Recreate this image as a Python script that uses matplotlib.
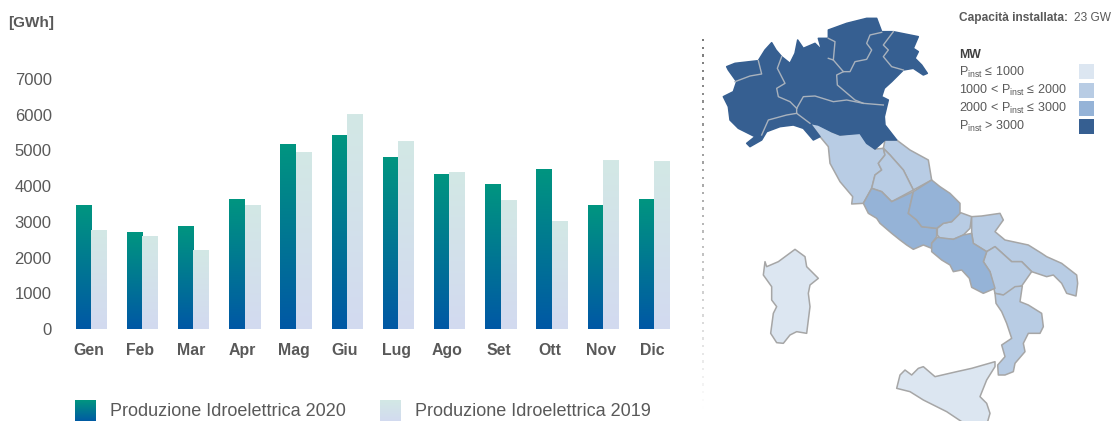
#!/usr/bin/env python3
"""Produzione idroelettrica mensile 2020/2019 e mappa della capacità installata."""

import matplotlib

matplotlib.use("Agg")
import matplotlib.pyplot as plt
import numpy as np
from matplotlib.colors import LinearSegmentedColormap
from matplotlib.patches import Polygon, Rectangle

plt.rcParams["font.family"] = ["Liberation Sans", "DejaVu Sans"]
plt.rcParams["mathtext.fontset"] = "custom"
plt.rcParams["mathtext.rm"] = "Liberation Sans"

# ── dati ──────────────────────────────────────────────
MONTHS = ["Gen", "Feb", "Mar", "Apr", "Mag", "Giu", "Lug", "Ago", "Set", "Ott", "Nov", "Dic"]
PROD_2020 = [3470, 2690, 2870, 3640, 5180, 5430, 4800, 4330, 4040, 4480, 3460, 3620]
PROD_2019 = [2760, 2600, 2200, 3470, 4950, 6020, 5240, 4370, 3600, 3010, 4720, 4690]
Y_TICKS = [0, 1000, 2000, 3000, 4000, 5000, 6000, 7000]

LEGEND_LABELS = ["Produzione Idroelettrica 2020", "Produzione Idroelettrica 2019"]
MW_LABELS = [
    r"P$_{\mathrm{inst}}$ ≤ 1000",
    r"1000 < P$_{\mathrm{inst}}$ ≤ 2000",
    r"2000 < P$_{\mathrm{inst}}$ ≤ 3000",
    r"P$_{\mathrm{inst}}$ > 3000",
]
MW_COLORS = ["#DCE6F1", "#B8CCE4", "#95B3D7", "#365F91"]

NORTH = [
    (80, 200), (105, 190), (175, 182), (195, 150), (215, 128), (228, 150), (245, 170), (270, 190),
    (285, 160), (293, 120), (310, 145), (345, 130), (365, 150), (355, 115), (385, 115), (385, 90),
    (440, 70), (500, 55), (530, 55), (545, 95), (580, 95), (655, 110), (640, 145), (655, 155),
    (645, 175), (665, 195), (682, 220), (670, 225), (640, 205), (610, 210), (575, 245), (553, 265),
    (545, 290), (565, 300), (553, 350), (555, 375), (590, 420), (555, 420), (525, 447), (500, 430),
    (480, 400), (420, 405), (395, 395), (355, 375), (330, 370), (360, 410), (340, 420), (310, 385),
    (280, 375), (240, 380), (200, 395), (185, 420), (150, 440), (140, 430), (165, 410), (115, 385),
    (90, 360), (85, 320), (70, 290), (100, 275), (110, 245), (85, 210),
]
NORTH_BORDERS = [
    [(105, 245), (150, 228), (185, 222), (175, 182)],
    [(245, 170), (232, 205), (255, 250), (230, 265), (235, 290), (270, 305), (290, 325)],
    [(290, 340), (260, 345), (205, 360), (185, 405)],
    [(290, 325), (310, 290), (345, 288), (400, 305), (440, 300), (490, 310), (550, 315)],
    [(290, 325), (290, 340), (330, 370)],
    [(385, 175), (400, 180), (405, 125), (385, 115)],
    [(400, 180), (430, 215), (450, 215), (465, 185), (500, 178), (515, 150), (500, 130), (510, 105), (545, 97)],
    [(430, 215), (410, 225), (412, 255), (465, 300), (490, 310)],
    [(580, 95), (550, 135), (565, 150), (550, 170), (575, 200), (610, 210)],
]
TOSCANA = [
    (330, 370), (355, 365), (395, 395), (420, 405), (480, 398), (495, 420), (525, 447), (550, 445),
    (555, 465), (535, 490), (545, 510), (525, 525), (515, 565), (490, 610), (455, 612), (458, 590),
    (420, 545), (390, 490), (385, 440), (360, 410),
]
MARCHE = [
    (555, 420), (590, 420), (630, 450), (685, 480), (695, 540), (640, 570), (610, 510), (570, 465), (550, 445),
]
UMBRIA = [
    (550, 445), (570, 465), (610, 510), (640, 570), (575, 605), (545, 575), (515, 565), (525, 525),
    (545, 510), (535, 490), (555, 465),
]
LAZIO = [
    (490, 610), (515, 565), (545, 575), (575, 605), (640, 575), (625, 640), (650, 660), (665, 680),
    (710, 685), (710, 710), (695, 730), (695, 745), (670, 735), (640, 748), (620, 735), (600, 720),
    (575, 700), (540, 670), (530, 655), (505, 640),
]
ABRUZZO = [
    (695, 540), (640, 575), (625, 640), (650, 660), (665, 680), (710, 685), (730, 670), (755, 665),
    (780, 640), (780, 610), (750, 580), (720, 560),
]
MOLISE = [
    (730, 670), (755, 665), (782, 638), (815, 650), (810, 685), (790, 705), (760, 718), (720, 715), (712, 705), (712, 685),
]
CAMPANIA = [
    (712, 712), (760, 718), (790, 705), (815, 700), (820, 730), (860, 755), (850, 785), (870, 815),
    (885, 865), (850, 880), (815, 862), (808, 835), (785, 810), (760, 815), (750, 795), (725, 780),
    (695, 755), (695, 730),
]
PUGLIA = [
    (815, 650), (845, 648), (900, 640), (910, 660), (885, 695), (915, 720), (985, 735), (1025, 760),
    (1040, 770), (1085, 790), (1130, 825), (1133, 850), (1128, 888), (1100, 880), (1085, 850),
    (1060, 825), (1040, 830), (995, 815), (965, 785), (935, 785), (885, 740), (860, 755), (820, 730), (815, 700),
]
BASILICATA = [
    (885, 740), (935, 785), (965, 785), (995, 815), (965, 858), (945, 865), (935, 880), (910, 885),
    (885, 880), (870, 815), (850, 785), (860, 755),
]
CALABRIA = [
    (885, 880), (910, 885), (945, 860), (967, 858), (960, 905), (985, 915), (1025, 940), (1030, 980),
    (1020, 1000), (985, 1000), (970, 1030), (975, 1055), (945, 1090), (940, 1115), (915, 1125),
    (895, 1125), (893, 1095), (915, 1070), (905, 1035), (935, 1015), (920, 970), (905, 935), (888, 910),
]
SICILIA = [
    (590, 1165), (600, 1125), (615, 1110), (635, 1125), (655, 1105), (670, 1100), (705, 1130),
    (770, 1115), (815, 1105), (885, 1085), (885, 1100), (860, 1140), (840, 1190), (860, 1210),
    (870, 1240), (860, 1275), (800, 1275), (740, 1235), (670, 1200), (630, 1175),
]
SARDEGNA = [
    (195, 785), (200, 800), (235, 785), (285, 748), (315, 770), (320, 800), (355, 835), (330, 855),
    (325, 880), (330, 920), (320, 1000), (290, 995), (270, 1005), (250, 1030), (230, 1028), (212, 1000),
    (220, 940), (230, 920), (215, 900), (215, 860), (190, 825),
]
REGIONS = [
    (TOSCANA, 1), (MARCHE, 1), (UMBRIA, 1), (MOLISE, 1), (PUGLIA, 1), (BASILICATA, 1), (CALABRIA, 1),
    (LAZIO, 2), (ABRUZZO, 2), (CAMPANIA, 2), (SICILIA, 0), (SARDEGNA, 0), (NORTH, 3),
]

W, H = 1114, 421
TEXT_GREY = "#595959"
CMAP_2020 = LinearSegmentedColormap.from_list("g2020", ["#0058A5", "#009580"])
CMAP_2019 = LinearSegmentedColormap.from_list("g2019", ["#D2DAF0", "#D3E8E5"])
GRAD = np.linspace(1, 0, 128).reshape(-1, 1)


def to_px(points):
    # le coordinate delle regioni sono nella scala 3x della mappa
    return [(700 + x / 3, y / 3) for x, y in points]


fig = plt.figure(figsize=(W / 100, H / 100), dpi=100, facecolor="white")

# ── grafico a barre ───────────────────────────────────
left, right = 60, 680
y0_px, y7000_px = 329, 79
ax = fig.add_axes([left / W, 1 - y0_px / H, (right - left) / W, (y0_px - y7000_px) / H])
x = np.arange(len(MONTHS))
bar_w = 0.3
bars_2020 = ax.bar(x - bar_w / 2, PROD_2020, bar_w, color="none")
bars_2019 = ax.bar(x + bar_w / 2, PROD_2019, bar_w, color="none")
for bars, cmap in [(bars_2020, CMAP_2020), (bars_2019, CMAP_2019)]:
    for b in bars:
        ax.imshow(
            GRAD, cmap=cmap, vmin=0, vmax=1, aspect="auto",
            extent=[b.get_x(), b.get_x() + b.get_width(), 0, b.get_height()],
        )
ax.set_xlim((left - 91) / 51.2, (right - 91) / 51.2)
ax.set_ylim(0, 7000)
ax.patch.set_alpha(0)
for spine in ax.spines.values():
    spine.set_visible(False)
ax.set_xticks(x - 0.04)
ax.set_xticklabels(MONTHS, fontsize=11.4, fontweight="bold", color=TEXT_GREY)
ax.set_yticks(Y_TICKS)
ax.set_yticklabels([str(v) for v in Y_TICKS], fontsize=12, color=TEXT_GREY)
ax.tick_params(axis="x", length=0, pad=10)
ax.tick_params(axis="y", length=0, pad=6)

# ── livello in pixel: mappa, legende, testi ───────────
ov = fig.add_axes([0, 0, 1, 1])
ov.set_xlim(0, W)
ov.set_ylim(H, 0)
ov.axis("off")

ov.text(8, 23, "[GWh]", fontsize=11, fontweight="bold", color=TEXT_GREY, va="center")

# legenda barre
for sx, cmap, label, tx in [
    (75, CMAP_2020, LEGEND_LABELS[0], 110),
    (380, CMAP_2019, LEGEND_LABELS[1], 415),
]:
    ov.imshow(GRAD, cmap=cmap, vmin=0, vmax=1, aspect="auto", extent=[sx, sx + 21, 422, 400])
    ov.text(tx, 412, label, fontsize=12.95, color=TEXT_GREY, va="center")
ov.set_xlim(0, W)
ov.set_ylim(H, 0)

# separatore a puntini che sfuma
dots_y = np.arange(39, 407, 7.65)
dots_alpha = np.clip(1 - (dots_y - 39) / 368, 0, 1) ** 0.9
for yy, al in zip(dots_y, dots_alpha):
    ov.add_patch(Rectangle((702, yy), 2.4, 2.4, fc="#7A7A7A", ec="none", alpha=al))

# mappa
for pts, level in REGIONS:
    edge = MW_COLORS[3] if level == 3 else "#A6A6A6"
    ov.add_patch(Polygon(to_px(pts), closed=True, fc=MW_COLORS[level], ec=edge, lw=1.1, joinstyle="round"))
for line in NORTH_BORDERS:
    px = np.array(to_px(line))
    ov.plot(px[:, 0], px[:, 1], color="#A9B2BD", lw=1.0, solid_joinstyle="round")

# legenda mappa
ov.text(959, 18, "Capacità installata:", fontsize=8.6, fontweight="bold", color=TEXT_GREY, va="center")
ov.text(1074, 18, "23 GW", fontsize=8.6, color=TEXT_GREY, va="center")
ov.text(959, 55, "MW", fontsize=8.8, fontweight="bold", color="#404040", va="center")
for label, color, ty, sy in zip(MW_LABELS, MW_COLORS, [72, 90, 108, 126], [64, 83, 101, 119]):
    ov.text(959, ty, label, fontsize=9, color=TEXT_GREY, va="center")
    ov.add_patch(Rectangle((1079, sy), 15, 15, fc=color, ec="none"))

fig.savefig("out.png", dpi=100, facecolor="white")
plt.close(fig)
